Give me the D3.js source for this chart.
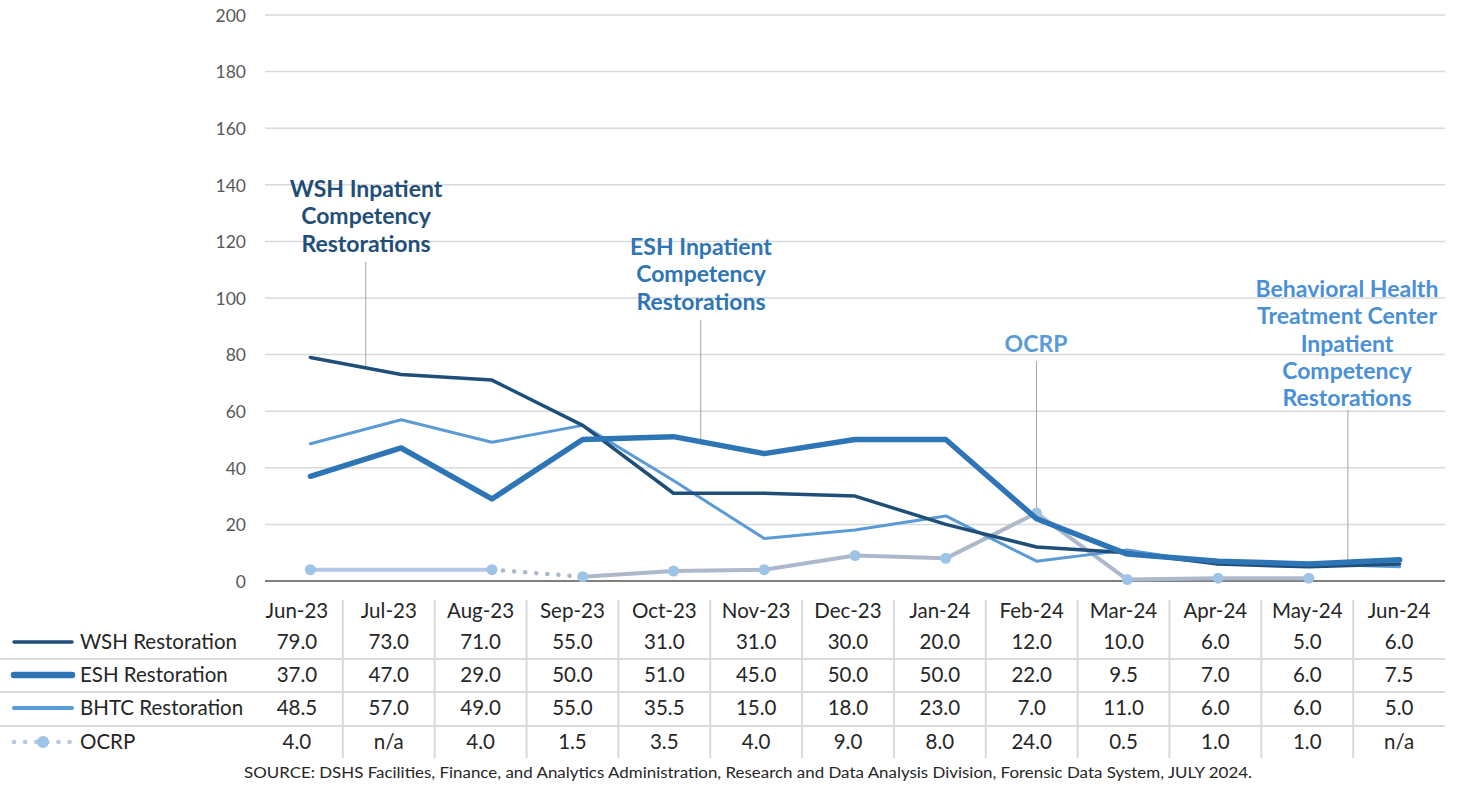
<!DOCTYPE html>
<html><head><meta charset="utf-8">
<script src="https://cdn.jsdelivr.net/npm/d3@7"></script>
<style>
html,body{margin:0;padding:0;background:#fff;}
svg{display:block;font-family:Lato, "Open Sans", sans-serif;}
</style></head>
<body><svg id="chart" width="1459" height="787"></svg>
<script>
// ---- data ----
const months = ["Jun-23","Jul-23","Aug-23","Sep-23","Oct-23","Nov-23","Dec-23","Jan-24","Feb-24","Mar-24","Apr-24","May-24","Jun-24"];
const wshValues  = [79, 73, 71, 55, 31, 31, 30, 20, 12, 10, 6, 5, 6];
const eshValues  = [37, 47, 29, 50, 51, 45, 50, 50, 22, 9.5, 7, 6, 7.5];
const bhtcValues = [48.5, 57, 49, 55, 35.5, 15, 18, 23, 7, 11, 6, 6, 5];
const ocrpValues = [4, null, 4, 1.5, 3.5, 4, 9, 8, 24, 0.5, 1, 1, null];
const seriesNames = ["WSH Restoration", "ESH Restoration", "BHTC Restoration", "OCRP"];
const yTicks = [0, 20, 40, 60, 80, 100, 120, 140, 160, 180, 200];
const sourceText = "SOURCE: DSHS Facilities, Finance, and Analytics Administration, Research and Data Analysis Division, Forensic Data System, JULY 2024.";

// ---- styling / layout ----
const svg = d3.select("#chart");
const plot = {left: 265, right: 1445, top: 15, bottom: 581};
const x = d3.scaleBand().domain(months).range([plot.left, plot.right]);
const xc = m => x(m) + x.bandwidth() / 2;
const y = d3.scaleLinear().domain([0, 200]).range([plot.bottom, plot.top]);
const tableX = d3.scaleBand().domain(months).range([251, 1445]);

const C = {wsh: "#1F4E79", esh: "#2E75B6", bhtc: "#5B9BD5", ocrp: "#ADB9CA", ocrpLight: "#B4C7E7", ocrpMarker: "#9DC3E6"};

// gridlines
svg.append("g").selectAll("line").data(yTicks.filter(d => d > 0)).join("line")
  .attr("x1", plot.left).attr("x2", plot.right)
  .attr("y1", d => y(d)).attr("y2", d => y(d))
  .attr("stroke", "#d9d9d9").attr("stroke-width", 1.5);

// y axis labels
const yAxis = d3.axisLeft(y).tickValues(yTicks).tickSize(0).tickPadding(0);
const yg = svg.append("g").attr("transform", `translate(${plot.left - 19},0)`).call(yAxis);
yg.select(".domain").remove();
yg.selectAll("text").attr("font-family", "Lato").attr("font-size", 17.5).attr("fill", "#595959").attr("dy", "0.36em");

// x axis line
svg.append("line").attr("x1", plot.left).attr("x2", plot.right)
  .attr("y1", y(0)).attr("y2", y(0)).attr("stroke", "#7f7f7f").attr("stroke-width", 2);

// ---- annotations (drawn before lines) ----
function valAt(vals, t) {
  const i = Math.floor(t), f = t - i;
  const a = vals[i], b = vals[Math.min(i + 1, vals.length - 1)];
  return a + (b - a) * f;
}
function xAt(t) {
  return xc(months[0]) + t * x.step();
}
const annotations = [
  {lines: ["WSH Inpatient", "Competency", "Restorations"], cx: 366, y0: 197, color: "#1F4E79", vals: wshValues, t: 0.61, ly: 262},
  {lines: ["ESH Inpatient", "Competency", "Restorations"], cx: 701, y0: 255, color: "#2E75B6", vals: eshValues, t: 4.30, ly: 320},
  {lines: ["OCRP"], cx: 1036, y0: 352, color: "#5B9BD5", vals: ocrpValues, t: 8.0, ly: 361},
  {lines: ["Behavioral Health", "Treatment Center", "Inpatient", "Competency", "Restorations"], cx: 1347, y0: 297, color: "#4A90D6", vals: bhtcValues, t: 11.43, ly: 410}
];
annotations.forEach(a => {
  const lx = xAt(a.t);
  svg.append("line").attr("x1", lx).attr("x2", lx).attr("y1", a.ly).attr("y2", y(valAt(a.vals, a.t)))
    .attr("stroke", "#a6a6a6").attr("stroke-width", 1);
  const t = svg.append("text").attr("text-anchor", "middle").attr("font-family", "Lato")
    .attr("font-weight", 700).attr("font-size", 23).attr("fill", a.color);
  a.lines.forEach((l, i) => t.append("tspan").attr("x", a.cx).attr("y", a.y0 + i * 27.3).text(l));
});

// ---- series lines ----
const lineGen = d3.line().defined(d => d.v != null).x(d => xc(d.m)).y(d => y(d.v));
const toPts = vals => vals.map((v, i) => ({m: months[i], v}));

// OCRP: segments with point-level formatting
const ocrpPts = toPts(ocrpValues).filter(d => d.v != null);
const ocrpSegments = [
  {from: "Jun-23", to: "Aug-23", stroke: C.ocrpLight, width: 4, dash: null},
  {from: "Aug-23", to: "Sep-23", stroke: C.ocrp, width: 4.5, dash: "0.1,11"},
  {from: "Sep-23", to: "May-24", stroke: C.ocrp, width: 4, dash: null}
];
ocrpSegments.forEach(s => {
  const i0 = months.indexOf(s.from), i1 = months.indexOf(s.to);
  const pts = ocrpPts.filter(d => months.indexOf(d.m) >= i0 && months.indexOf(d.m) <= i1);
  const p = svg.append("path").datum(pts).attr("d", d3.line().x(d => xc(d.m)).y(d => y(d.v)))
    .attr("fill", "none").attr("stroke", s.stroke).attr("stroke-width", s.width)
    .attr("stroke-linecap", "round").attr("stroke-linejoin", "round");
  if (s.dash) p.attr("stroke-dasharray", s.dash);
});
svg.append("g").selectAll("circle").data(ocrpPts).join("circle")
  .attr("cx", d => xc(d.m)).attr("cy", d => y(d.v)).attr("r", 5.5).attr("fill", C.ocrpMarker);

const series = [
  {vals: bhtcValues, color: C.bhtc, width: 3},
  {vals: wshValues, color: C.wsh, width: 3.5},
  {vals: eshValues, color: C.esh, width: 5.5}
];
series.forEach(s => {
  svg.append("path").datum(toPts(s.vals)).attr("d", lineGen)
    .attr("fill", "none").attr("stroke", s.color).attr("stroke-width", s.width)
    .attr("stroke-linecap", "round").attr("stroke-linejoin", "round");
});

// ---- data table ----
const rowY = [611, 642, 675, 708, 742];
const rowLines = [659, 692, 726];
const tg = svg.append("g").attr("font-family", "Lato").attr("font-size", 20.5).attr("fill", "#262626");
// vertical separators
tg.selectAll("line.v").data(months.slice(1)).join("line").attr("class", "v")
  .attr("x1", d => tableX(d)).attr("x2", d => tableX(d)).attr("y1", 600).attr("y2", 758)
  .attr("stroke", "#d9d9d9").attr("stroke-width", 2);
tg.selectAll("line.h").data(rowLines).join("line").attr("class", "h")
  .attr("x1", 0).attr("x2", 1445).attr("y1", d => d).attr("y2", d => d)
  .attr("stroke", "#d9d9d9").attr("stroke-width", 2);
// header
tg.selectAll("text.hd").data(months).join("text").attr("class", "hd")
  .attr("x", d => tableX(d) + tableX.bandwidth() / 2).attr("y", rowY[0]).attr("dy", "0.36em")
  .attr("text-anchor", "middle").text(d => d);
const fmt = v => v == null ? "n/a" : d3.format(".1f")(v);
const tableSeries = [wshValues, eshValues, bhtcValues, ocrpValues];
tableSeries.forEach((vals, r) => {
  tg.append("g").selectAll("text").data(vals).join("text")
    .attr("x", (d, i) => tableX(months[i]) + tableX.bandwidth() / 2).attr("y", rowY[r + 1]).attr("dy", "0.36em")
    .attr("text-anchor", "middle").text(fmt);
  tg.append("text").attr("x", 80).attr("y", rowY[r + 1]).attr("dy", "0.36em").text(seriesNames[r]);
});
// legend keys
const keyStyles = [{c: C.wsh, w: 3.5}, {c: C.esh, w: 6.5}, {c: C.bhtc, w: 4}];
keyStyles.forEach((k, i) => {
  svg.append("line").attr("x1", 14).attr("x2", 72).attr("y1", rowY[i + 1]).attr("y2", rowY[i + 1])
    .attr("stroke", k.c).attr("stroke-width", k.w).attr("stroke-linecap", "round");
});
svg.append("line").attr("x1", 14).attr("x2", 72).attr("y1", rowY[4]).attr("y2", rowY[4])
  .attr("stroke", C.ocrpLight).attr("stroke-width", 4.5).attr("stroke-linecap", "round").attr("stroke-dasharray", "0.1,11");
svg.append("circle").attr("cx", 43).attr("cy", rowY[4]).attr("r", 6).attr("fill", C.ocrpMarker);

// source
svg.append("text").attr("x", 748).attr("y", 778).attr("text-anchor", "middle")
  .attr("font-family", "Lato").attr("font-size", 14.5).attr("fill", "#262626")
  .attr("textLength", 1008).attr("lengthAdjust", "spacingAndGlyphs").text(sourceText);
</script></body></html>
